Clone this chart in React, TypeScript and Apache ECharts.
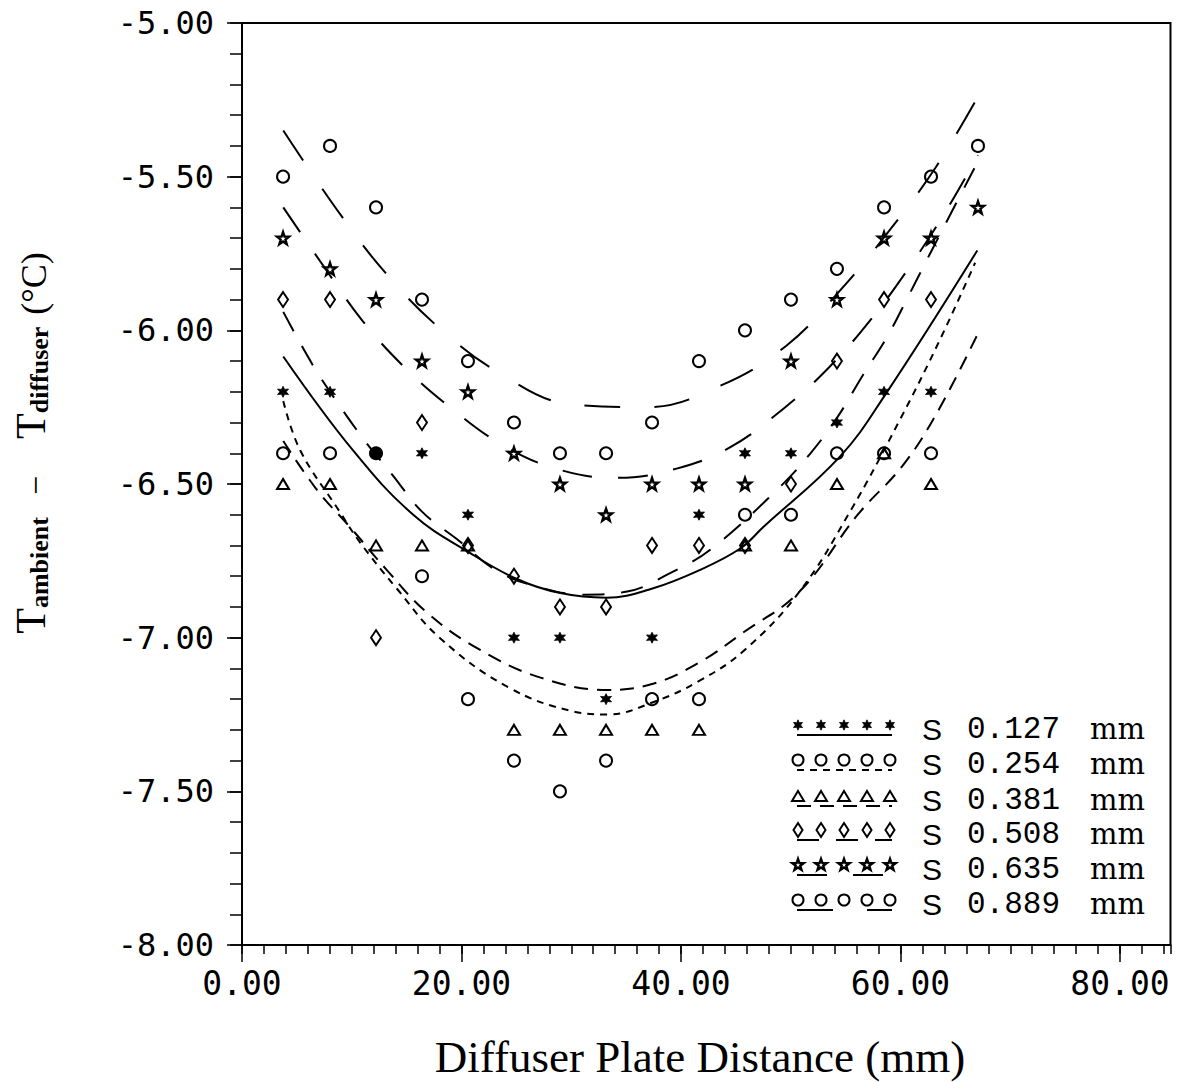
import React, { useEffect, useRef } from "react";
import * as echarts from "echarts";

// ---------- data ----------
const xPositions = [3.74, 8.02, 12.21, 16.4, 20.59, 24.78, 28.97, 33.17, 37.36, 41.64, 45.83, 50.02, 54.21, 58.5, 62.78, 67.06];

const s0127 = [-6.2, -6.2, -6.4, -6.4, -6.6, -7.0, -7.0, -7.2, -7.0, -6.6, -6.4, -6.4, -6.3, -6.2, -6.2, null];
const s0254 = [-6.4, -6.4, -6.4, -6.8, -7.2, -7.4, -7.5, -7.4, -7.2, -7.2, -6.6, -6.6, -6.4, -6.4, -6.4, null];
const s0381 = [-6.5, -6.5, -6.7, -6.7, -6.7, -7.3, -7.3, -7.3, -7.3, -7.3, -6.7, -6.7, -6.5, -6.4, -6.5, null];
const s0508 = [-5.9, -5.9, -7.0, -6.3, -6.7, -6.8, -6.9, -6.9, -6.7, -6.7, -6.7, -6.5, -6.1, -5.9, -5.9, null];
const s0635 = [-5.7, -5.8, -5.9, -6.1, -6.2, -6.4, -6.5, -6.6, -6.5, -6.5, -6.5, -6.1, -5.9, -5.7, -5.7, -5.6];
const s0889 = [-5.5, -5.4, -5.6, -5.9, -6.1, -6.3, -6.4, -6.4, -6.3, -6.1, -6.0, -5.9, -5.8, -5.6, -5.5, -5.4];

// fitted curves
const fit0127 = [[3.76, -6.085], [10.1, -6.39], [15.6, -6.6], [20.8, -6.725], [25.1, -6.81], [29.0, -6.855], [33.2, -6.87], [37.4, -6.84], [41.7, -6.78], [45.4, -6.71], [47.5, -6.64], [54.5, -6.41], [58.6, -6.21], [67.0, -5.74]];
const fit0254 = [[3.76, -6.23], [5.3, -6.39], [8.9, -6.59], [10.75, -6.69], [14.1, -6.84], [18.0, -7.0], [24.2, -7.16], [30.2, -7.24], [33.3, -7.25], [37.45, -7.21], [41.7, -7.14], [45.8, -7.04], [50.8, -6.85], [55.4, -6.59], [59.96, -6.29], [63.6, -6.03], [66.8, -5.78]];
const fit0381 = [[3.76, -6.36], [6.85, -6.52], [9.84, -6.64], [13.2, -6.78], [16.9, -6.92], [21.7, -7.04], [27.2, -7.13], [33.3, -7.17], [37.45, -7.15], [41.7, -7.08], [45.8, -6.98], [50.8, -6.85], [56.1, -6.6], [60.2, -6.44], [63.3, -6.27], [67.06, -6.01]];
const fit0508 = [[3.76, -5.94], [6.4, -6.11], [8.6, -6.23], [11.2, -6.36], [13.7, -6.47], [16.4, -6.59], [19.6, -6.68], [23.1, -6.78], [26.5, -6.83], [31.2, -6.86], [35.1, -6.85], [39.0, -6.79], [42.8, -6.71], [49.0, -6.51], [51.8, -6.4], [54.3, -6.28], [56.5, -6.15], [58.8, -6.02], [60.7, -5.89], [62.7, -5.75], [67.06, -5.45]];
const fit0635 = [[3.76, -5.6], [7.7, -5.805], [11.0, -5.97], [14.8, -6.12], [18.95, -6.25], [23.6, -6.37], [28.6, -6.45], [34.1, -6.48], [39.6, -6.45], [44.5, -6.38], [49.5, -6.25], [53.5, -6.12], [57.4, -5.96], [60.7, -5.8], [64.0, -5.62], [67.06, -5.43]];
const fit0889 = [[3.76, -5.35], [8.7, -5.61], [13.0, -5.81], [17.9, -5.99], [23.5, -6.14], [29.9, -6.24], [36.9, -6.25], [43.6, -6.18], [49.6, -6.05], [54.5, -5.87], [59.1, -5.67], [63.2, -5.47], [67.06, -5.24]];

const spacingLabels = ["0.127", "0.254", "0.381", "0.508", "0.635", "0.889"];
const xMajorTicks = [0, 20, 40, 60, 80];
const yMajorTicks = [-8, -7.5, -7, -6.5, -6, -5.5, -5];

// ---------- styling ----------
const BLACK = "#000";
const starPts = [[0, -10], [2.35, -3.24], [9.51, -3.09], [3.8, 1.24], [5.88, 8.09], [0, 4], [-5.88, 8.09], [-3.8, 1.24], [-9.51, -3.09], [-2.35, -3.24]];
const hexPts = [[0, -10], [2.5, -4.33], [8.66, -5], [5, 0], [8.66, 5], [2.5, 4.33], [0, 10], [-2.5, 4.33], [-8.66, 5], [-5, 0], [-8.66, -5], [-2.5, -4.33]];
const toPath = (pts: number[][]) => "path://M" + pts.map((p) => p[0] + "," + p[1]).join("L") + "Z";

type Kind = "hex" | "circle" | "triangle" | "diamond" | "star";
const kinds: Kind[] = ["hex", "circle", "triangle", "diamond", "star", "circle"];
const dashes: (number[] | null)[] = [null, [7, 6], [14, 9], [22, 17], [30, 26], [36, 34]];
const pointSets = [s0127, s0254, s0381, s0508, s0635, s0889];
const fitSets = [fit0127, fit0254, fit0381, fit0508, fit0635, fit0889];

const OPEN = { color: "rgba(255,255,255,0)", borderColor: BLACK, borderWidth: 2, opacity: 1 };
const symbolFor = (k: Kind): any => {
  switch (k) {
    case "hex": return { symbol: toPath(hexPts), symbolSize: 11, itemStyle: { color: BLACK, opacity: 1, borderColor: BLACK, borderWidth: 0.8 } };
    case "circle": return { symbol: "circle", symbolSize: 12, itemStyle: OPEN };
    case "triangle": return { symbol: "triangle", symbolSize: [12, 10], itemStyle: OPEN };
    case "diamond": return { symbol: "diamond", symbolSize: [10, 15], itemStyle: OPEN };
    case "star": return { symbol: toPath(starPts), symbolSize: 12, itemStyle: { ...OPEN, borderWidth: 2.4 } };
  }
};

const legendSymbol = (k: Kind, cx: number, cy: number): any => {
  const st = { fill: "none", stroke: BLACK, lineWidth: 2 };
  switch (k) {
    case "hex": return { type: "polygon", shape: { points: hexPts.map((p) => [cx + p[0] * 0.52, cy + p[1] * 0.52]) }, style: { fill: BLACK, stroke: BLACK, lineWidth: 0.8 } };
    case "circle": return { type: "circle", shape: { cx, cy, r: 5.5 }, style: st };
    case "triangle": return { type: "polygon", shape: { points: [[cx, cy - 5], [cx + 6, cy + 5], [cx - 6, cy + 5]] }, style: st };
    case "diamond": return { type: "polygon", shape: { points: [[cx, cy - 7], [cx + 4.5, cy], [cx, cy + 7], [cx - 4.5, cy]] }, style: st };
    case "star": return { type: "polygon", shape: { points: starPts.map((p) => [cx + p[0] * 0.6, cy + p[1] * 0.6]) }, style: { fill: "none", stroke: BLACK, lineWidth: 2.4 } };
  }
};

export default function App() {
  const ref = useRef<HTMLDivElement>(null);

  useEffect(() => {
    if (!ref.current) return;
    const chart = echarts.init(ref.current, undefined, { renderer: "svg" });

    const GL = 242, GT = 23, GH = 922;
    const pxPerUnit = 10.975;
    const XMAX = 84.6;

    const series: any[] = [];
    fitSets.forEach((fit, i) => {
      series.push({
        type: "line",
        name: "fit " + spacingLabels[i],
        xAxisIndex: 0,
        yAxisIndex: 0,
        data: fit,
        smooth: 0.4,
        showSymbol: false,
        symbol: "none",
        silent: true,
        lineStyle: { color: BLACK, width: 2, type: dashes[i] || "solid", opacity: 1 },
        z: 2,
      });
    });
    pointSets.forEach((vals, i) => {
      const sym = symbolFor(kinds[i]);
      const data: any[] = [];
      vals.forEach((v, j) => {
        if (v === null) return;
        if (i === 1 && j === 2) {
          data.push({ value: [xPositions[j], v], itemStyle: { color: BLACK } });
        } else {
          data.push([xPositions[j], v]);
        }
      });
      series.push({
        type: "scatter",
        name: "S " + spacingLabels[i] + " mm",
        xAxisIndex: 0,
        yAxisIndex: 0,
        data,
        ...sym,
        z: 3,
      });
    });

    const rowsY = [725, 760, 796, 830, 865, 900];
    const symX = [798, 821, 844, 867, 890];
    const graphic: any[] = [];
    rowsY.forEach((ry, r) => {
      graphic.push({
        type: "line",
        shape: { x1: 797, y1: ry + 10, x2: 892, y2: ry + 10 },
        style: { stroke: BLACK, lineWidth: 2, lineDash: dashes[r] || undefined },
      });
      symX.forEach((sx) => graphic.push(legendSymbol(kinds[r], sx, ry)));
      graphic.push({
        type: "text",
        x: 922,
        y: ry + 4,
        style: {
          text: "{s|S}{v|" + spacingLabels[r] + "}{u|mm}",
          verticalAlign: "middle",
          align: "left",
          fill: BLACK,
          rich: {
            s: { width: 45, fontFamily: "Liberation Sans", fontSize: 30, lineHeight: 28, fill: BLACK },
            v: { width: 123, fontFamily: "Liberation Mono", fontSize: 31, lineHeight: 28, fill: BLACK },
            u: { fontFamily: "DejaVu Serif", fontSize: 29, lineHeight: 28, fill: BLACK },
          },
        },
      });
    });

    // axis titles
    graphic.push({
      type: "text",
      x: 700,
      y: 1057,
      style: {
        text: "Diffuser Plate Distance (mm)",
        fontFamily: "Liberation Serif",
        fontSize: 45,
        fill: BLACK,
        align: "center",
        verticalAlign: "middle",
      },
    });
    graphic.push({
      type: "text",
      x: 30,
      y: 443,
      rotation: Math.PI / 2,
      style: {
        text: "{T|T}{sub|ambient}{g1| }{m|−}{g2| }{T|T}{sub|diffuser}{g3| }{u|(°C)}",
        align: "center",
        verticalAlign: "middle",
        fill: BLACK,
        rich: {
          T: { fontFamily: "Liberation Serif", fontSize: 42, fill: BLACK, lineHeight: 44, verticalAlign: "bottom" },
          sub: { fontFamily: "Liberation Serif", fontWeight: "bold", fontSize: 26, fill: BLACK, lineHeight: 22, verticalAlign: "bottom" },
          g1: { width: 22, fontSize: 10 },
          g2: { width: 37, fontSize: 10 },
          g3: { width: 12, fontSize: 10 },
          m: { fontFamily: "Liberation Serif", fontSize: 34, fill: BLACK, lineHeight: 44, verticalAlign: "bottom" },
          u: { fontFamily: "Liberation Serif", fontSize: 36, fill: BLACK, lineHeight: 44, verticalAlign: "bottom" },
        },
      },
    });

    const option: any = {
      animation: false,
      backgroundColor: "#fff",
      textStyle: { fontFamily: "DejaVu Sans Mono", color: BLACK },
      grid: [
        { left: GL, top: GT, width: XMAX * pxPerUnit, height: GH, show: true, borderColor: BLACK, borderWidth: 2, backgroundColor: "transparent", containLabel: false, outerBoundsMode: "none" },
        { left: GL, top: GT, width: xMajorTicks[xMajorTicks.length - 1] * pxPerUnit, height: GH, show: false, containLabel: false, outerBoundsMode: "none" },
      ],
      xAxis: [
        {
          type: "value", gridIndex: 0, position: "bottom", min: 0, max: XMAX, interval: 2,
          axisLine: { show: true, onZero: false, lineStyle: { color: BLACK, width: 2 } },
          axisTick: { show: true, length: 9, lineStyle: { color: BLACK, width: 1.5 } },
          axisLabel: { show: false },
          splitLine: { show: false },
        },
        {
          type: "value", gridIndex: 1, position: "bottom", min: xMajorTicks[0], max: xMajorTicks[xMajorTicks.length - 1], interval: 20,
          axisLine: { show: false, onZero: false },
          axisTick: { show: true, length: 17, lineStyle: { color: BLACK, width: 1.5 } },
          axisLabel: { show: true, fontSize: 33, color: BLACK, fontFamily: "DejaVu Sans Mono", margin: 22, formatter: (v: number) => v.toFixed(2) },
          splitLine: { show: false },
        },
      ],
      yAxis: [
        {
          type: "value", gridIndex: 0, position: "left", offset: 0, min: -8, max: -5, interval: 0.1,
          axisLine: { show: true, onZero: false, lineStyle: { color: BLACK, width: 2 } },
          axisTick: { show: true, length: 12, lineStyle: { color: BLACK, width: 1.5 } },
          axisLabel: { show: false },
          splitLine: { show: false },
        },
        {
          type: "value", gridIndex: 0, position: "left", offset: 0, min: yMajorTicks[0], max: yMajorTicks[yMajorTicks.length - 1], interval: 0.5,
          axisLine: { show: false, onZero: false },
          axisTick: { show: true, length: 15, lineStyle: { color: BLACK, width: 1.5 } },
          axisLabel: { show: true, fontSize: 32, color: BLACK, fontFamily: "DejaVu Sans Mono", margin: 28, formatter: (v: number) => v.toFixed(2) },
          splitLine: { show: false },
        },
        {
          type: "value", gridIndex: 1, position: "left", min: -8, max: -5, show: false,
        },
      ],
      series,
      graphic,
    };

    chart.setOption(option);
    return () => chart.dispose();
  }, []);

  return (
    <div
      ref={ref}
      style={{ position: "fixed", left: 0, top: 0, width: 1187, height: 1082, background: "#fff" }}
    />
  );
}
